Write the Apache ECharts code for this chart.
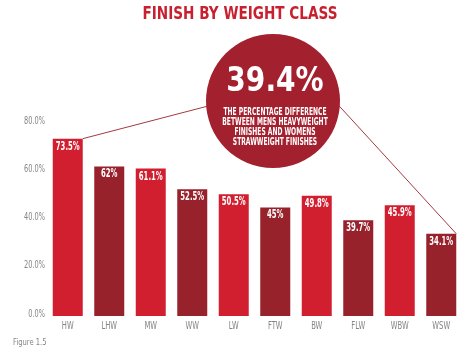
<!DOCTYPE html>
<html>
<head>
<meta charset="utf-8">
<script src="https://cdn.jsdelivr.net/npm/echarts@6/dist/echarts.min.js"></script>
<style>
  html, body { margin: 0; padding: 0; background: #fff; }
  #container { width: 474px; height: 354px; }
</style>
</head>
<body>
<div id="container"></div>
<script>
// 数据
const categories = ['HW', 'LHW', 'MW', 'WW', 'LW', 'FTW', 'BW', 'FLW', 'WBW', 'WSW'];
const finishRates = [73.5, 62, 61.1, 52.5, 50.5, 45, 49.8, 39.7, 45.9, 34.1];
const barLabels = ['73.5%', '62%', '61.1%', '52.5%', '50.5%', '45%', '49.8%', '39.7%', '45.9%', '34.1%'];
const yTicks = [0, 20, 40, 60, 80];
const calloutValue = '39.4%';
const calloutLines = [
  'THE PERCENTAGE DIFFERENCE',
  'BETWEEN MENS HEAVYWEIGHT',
  'FINISHES AND WOMENS',
  'STRAWWEIGHT FINISHES'
];

const FAMILY = '"DejaVu Sans", sans-serif';
const RED = '#d21f30';
const DARK = '#98222c';
const GRAY = '#858585';

const chart = echarts.init(document.getElementById('container'), null, { renderer: 'canvas' });

const option = {
  backgroundColor: '#fff',
  animation: false,
  grid: { left: 47, right: 12, top: 123, bottom: 38 },
  xAxis: {
    type: 'category',
    data: categories,
    axisLine: { show: false },
    axisTick: { show: false },
    axisLabel: { show: false }
  },
  yAxis: {
    type: 'value',
    min: yTicks[0],
    max: yTicks[yTicks.length - 1],
    interval: 20,
    splitLine: { show: false },
    axisLine: { show: false },
    axisTick: { show: false },
    axisLabel: { show: false }
  },
  series: [{
    type: 'bar',
    barWidth: 30,
    data: finishRates.map((v, i) => ({
      value: v,
      itemStyle: { color: i % 2 === 0 ? RED : DARK }
    }))
  }]
};

chart.setOption(option);

// 文字（压缩字形）、标注圆与连接线
function narrowText(x, y, text, font, color, sx, align) {
  return {
    type: 'text', z: 30, x: x, y: y, scaleX: sx, silent: true,
    style: { text: text, fill: color, font: font, textAlign: align || 'center', textVerticalAlign: 'middle' }
  };
}

function drawOverlay() {
  const first = chart.convertToPixel({ seriesIndex: 0 }, [0, finishRates[0]]);
  const last = chart.convertToPixel({ seriesIndex: 0 }, [categories.length - 1, finishRates[finishRates.length - 1]]);
  const cx = 273, cy = 101, r = 67;
  const lineStyle = { stroke: '#a33a42', lineWidth: 1 };

  const elements = [
    narrowText(240, 15, 'FINISH BY WEIGHT CLASS', 'bold 17px ' + FAMILY, '#c8202f', 0.8),
    { type: 'line', z: 10, shape: { x1: first[0] + 15, y1: first[1], x2: 235, y2: 99 }, style: lineStyle, silent: true },
    { type: 'line', z: 10, shape: { x1: last[0] + 15, y1: last[1], x2: 320, y2: 85 }, style: lineStyle, silent: true },
    { type: 'circle', z: 20, shape: { cx: cx, cy: cy, r: r }, style: { fill: '#a3202e' }, silent: true },
    narrowText(cx + 2, 82, calloutValue, 'bold 33px ' + FAMILY, '#fff', 0.85)
  ];
  calloutLines.forEach((t, i) => {
    elements.push(narrowText(cx + 2, 112 + i * 10.2, t, 'bold 11px ' + FAMILY, '#fff', 0.545));
  });

  // 柱内数值
  finishRates.forEach((v, i) => {
    const p = chart.convertToPixel({ seriesIndex: 0 }, [i, v]);
    elements.push(narrowText(p[0], p[1] + 8, barLabels[i], 'bold 11.5px ' + FAMILY, '#fff', 0.6));
  });

  // 坐标轴标签（标签比刻度略高，与原图一致）
  categories.forEach((c, i) => {
    const p = chart.convertToPixel({ seriesIndex: 0 }, [i, 0]);
    elements.push(narrowText(p[0], p[1] + 10, c, '10px ' + FAMILY, GRAY, 0.68));
  });
  yTicks.forEach(t => {
    const p = chart.convertToPixel({ seriesIndex: 0 }, [0, t]);
    elements.push(narrowText(45, p[1] - 2, t.toFixed(1) + '%', '10px ' + FAMILY, GRAY, 0.66, 'right'));
  });

  elements.push(narrowText(13, 343, 'Figure 1.5', '9px ' + FAMILY, GRAY, 0.75, 'left'));

  chart.setOption({ graphic: elements });
}

drawOverlay();
window.addEventListener('resize', () => chart.resize());
</script>
</body>
</html>
